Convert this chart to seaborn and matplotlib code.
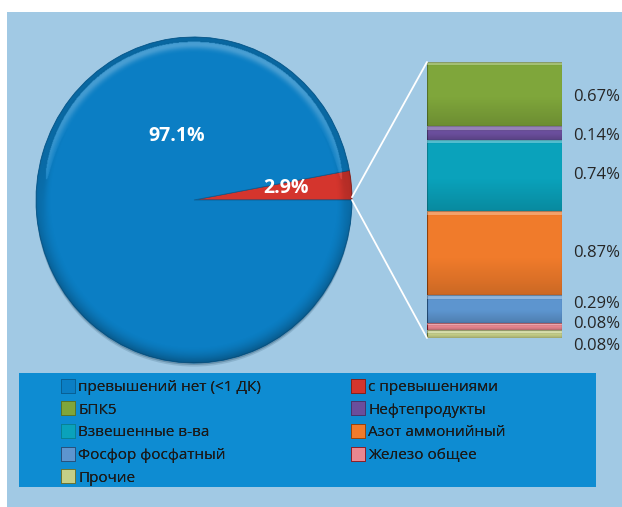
import numpy as np
import matplotlib
matplotlib.use("Agg")
import matplotlib.pyplot as plt
from matplotlib.patches import Rectangle, ConnectionPatch, Ellipse
from matplotlib.lines import Line2D
import seaborn as sns

# Share of samples: main pie
pie_labels = ["превышений нет (<1 ДК)", "с превышениями"]
pie_values = [97.1, 2.9]

# Breakdown of the exceedances, top to bottom of the stacked bar
bar_labels = ["БПК5", "Нефтепродукты", "Взвешенные в-ва", "Азот аммонийный",
              "Фосфор фосфатный", "Железо общее", "Прочие"]
bar_values = [0.67, 0.14, 0.74, 0.87, 0.29, 0.08, 0.08]

pie_colors = ["#0b7ec4", "#d4352d"]
bar_colors = ["#7fa63b", "#6a4e9c", "#0aa2bb", "#f07b2b", "#5d95cf", "#ea8790", "#c5cf88"]

sns.set_theme(style="white")
plt.rcParams["font.family"] = ["Open Sans", "DejaVu Sans"]

W, H = 622, 507
fig = plt.figure(figsize=(W / 100, H / 100), dpi=100, facecolor="white")


def fbox(x0, y0, x1, y1):
    """Pixel box (top-left origin) -> figure fraction rect."""
    return [x0 / W, 1 - y1 / H, (x1 - x0) / W, (y1 - y0) / H]


# Light blue panel and dark blue legend strip
fig.patches.append(Rectangle((7 / W, 0), 1 - 7 / W, 1 - 12 / H, transform=fig.transFigure,
                             facecolor="#a1c9e4", edgecolor="none", zorder=-2))
fig.patches.append(Rectangle((19 / W, 1 - 487 / H), (596 - 19) / W, (487 - 373) / H,
                             transform=fig.transFigure, facecolor="#0e8cd2",
                             edgecolor="none", zorder=-1))

# ---- Pie ----
ax_pie = fig.add_axes(fbox(36, 37, 352, 363))
ax_pie.set_axis_off()
# soft drop shadow under the disc
for k, a in [(0.012, 0.25), (0.022, 0.15)]:
    ax_pie.add_patch(Ellipse((0.0, -k), 2.0, 2.0, facecolor="#0a3550", alpha=a,
                             edgecolor="none", zorder=0, clip_on=False))
order = [1, 0]  # red slice starts at 0 degrees, counter-clockwise
wedges, _ = ax_pie.pie([pie_values[i] for i in order],
                       colors=[pie_colors[i] for i in order],
                       startangle=0, counterclock=True,
                       wedgeprops=dict(edgecolor="#0a5f96", linewidth=0.6, zorder=1))
wedges[0].set_edgecolor("#8e1f1a")
ax_pie.set_aspect("auto")
ax_pie.set_xlim(-1, 1)
ax_pie.set_ylim(-1, 1)

# bevel shading on the disc rim
g = np.linspace(-1, 1, 500)
gx, gy = np.meshgrid(g, g[::-1])
rr = np.hypot(gx, gy)
dark = 0.30 * np.clip((rr - 0.90) / 0.10, 0, 1) ** 1.6 * (0.6 + 0.4 * np.clip(-gy, 0, 1))
hi = 0.18 * np.exp(-((rr - 0.955) / 0.025) ** 2) * np.clip(gy + 0.2, 0, 1)
alpha = dark + hi
rgb = np.where((hi > dark)[..., None], 1.0, 0.0) * np.ones(rr.shape + (3,))
shade = np.dstack([rgb, np.clip(alpha, 0, 1)])
for w in wedges:
    im = ax_pie.imshow(shade, extent=(-1, 1, -1, 1), aspect="auto", zorder=2,
                       interpolation="bilinear")
    im.set_clip_path(w)

ax_pie.text(-0.11, 0.39, f"{pie_values[0]:.1f}%", color="white", fontsize=14,
            fontweight="bold", ha="center", va="center", zorder=5)
ax_pie.text(0.58, 0.075, f"{pie_values[1]:.1f}%", color="white", fontsize=14,
            fontweight="bold", ha="center", va="center", zorder=5)

# ---- Stacked bar ----
ax_bar = fig.add_axes(fbox(427, 62, 562, 338))
ax_bar.set_axis_off()
vals = np.array(bar_values)
tops = vals.sum() - np.concatenate([[0], np.cumsum(vals)[:-1]])
bottoms = tops - vals
edge_cols = [sns.set_hls_values(c, l=0.3) for c in bar_colors]
bars = ax_bar.bar(np.zeros(len(vals)), vals, bottom=bottoms, width=1.0,
                  color=bar_colors, edgecolor=edge_cols, linewidth=0.8, zorder=1)
ax_bar.set_xlim(-0.5, 0.5)
ax_bar.set_ylim(0, vals.sum())

# bevel: light top edge, slightly darker lower part of each segment
px_per_unit = 276 / vals.sum()
for rect, v, b in zip(bars, vals, bottoms):
    n = max(int(v * px_per_unit), 2)
    t = np.linspace(0, 1, n)
    img = np.zeros((n, 4, 4))
    top_band = t < min(0.5, 4.0 / n)
    img[top_band, :, :3] = 1.0
    img[top_band, :, 3] = 0.3
    shadow = np.clip((t - 0.55) / 0.45, 0, 1) * 0.15
    img[~top_band, :, 3] = shadow[~top_band, None]
    im = ax_bar.imshow(img, extent=(-0.5, 0.5, b, b + v), aspect="auto", zorder=2,
                       interpolation="bilinear")
    im.set_clip_path(rect)

# value labels, small segments nudged apart (pixels)
nudge = {0: -3, 1: -3, 4: 5, 5: 2, 6: -12}
for i, (v, b) in enumerate(zip(vals, bottoms)):
    dy = nudge.get(i, 0)
    ax_bar.annotate(f"{v:.2f}%", xy=(1.08, b + v / 2), xycoords=ax_bar.get_yaxis_transform(),
                    xytext=(0, dy * 0.72), textcoords="offset points",
                    ha="left", va="center", fontsize=12, color="#262626",
                    annotation_clip=False)

# connector lines from the red slice to the bar
for ang, yb in [(1.0, vals.sum()), (0.0, 0.0)]:
    a = np.deg2rad(ang)
    con = ConnectionPatch(xyA=(np.cos(a), np.sin(a)), coordsA=ax_pie.transData,
                          xyB=(-0.5, yb), coordsB=ax_bar.transData,
                          color="white", linewidth=1.3)
    fig.add_artist(con)

# ---- Legend (two columns) ----
def handle(c):
    return Line2D([], [], marker="s", linestyle="none", markersize=9.5,
                  markerfacecolor=c, markeredgecolor=sns.set_hls_values(c, l=0.3),
                  markeredgewidth=0.6)

col1 = [(pie_labels[0], pie_colors[0])] + [(bar_labels[i], bar_colors[i]) for i in (0, 2, 4, 6)]
col2 = [(pie_labels[1], pie_colors[1])] + [(bar_labels[i], bar_colors[i]) for i in (1, 3, 5)]

for items, x0 in [(col1, 62), (col2, 352)]:
    leg = fig.legend([handle(c) for _, c in items], [t for t, _ in items],
                     loc="upper left", bbox_to_anchor=(x0 / W, 1 - 380 / H),
                     frameon=False, fontsize=11, labelcolor="#1a1a1a",
                     handlelength=0.85, handletextpad=0.2, labelspacing=0.5,
                     borderpad=0, borderaxespad=0)
    fig.add_artist(leg)

fig.savefig("out.png", dpi=100, facecolor="white")
